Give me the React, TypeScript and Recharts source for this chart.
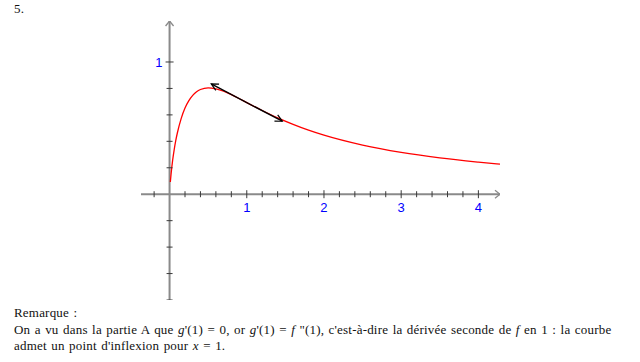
import React from "react";
import {
  ComposedChart,
  Line,
  Scatter,
  XAxis,
  YAxis,
} from "recharts";

// Sampled points of the red curve
const curveX = [
  0.01, 0.02, 0.04, 0.06, 0.08, 0.1, 0.15, 0.2, 0.25, 0.3, 0.35, 0.4, 0.5,
  0.6, 0.7, 0.8, 0.9, 1.0, 1.2, 1.4, 1.6, 1.8, 2.0, 2.5, 3.0, 3.5, 4.0, 4.28,
];
const curveY = [
  0.092, 0.156, 0.258, 0.338, 0.405, 0.461, 0.572, 0.652, 0.708, 0.748, 0.775,
  0.792, 0.805, 0.797, 0.779, 0.753, 0.724, 0.693, 0.633, 0.577, 0.528, 0.484,
  0.446, 0.371, 0.316, 0.275, 0.243, 0.227,
];

// Tangent segment at x = 1
const tangentX = [0.54, 1.46];
const tangentY = [0.834, 0.552];

// Axis extents
const xAxisRange = [-0.37, 4.28];
const yAxisRange = [-0.8, 1.31];

// Graduations
const xMinorTicks = [
  -0.2, 0.2, 0.4, 0.6, 0.8, 1.2, 1.4, 1.6, 1.8, 2.2, 2.4, 2.6, 2.8, 3.2, 3.4,
  3.6, 3.8,
];
const xMajorTicks = [1, 2, 3, 4];
const xTickLabels = ["1", "2", "3", "4"];
const yMinorTicks = [-0.8, -0.6, -0.4, -0.2, 0.2, 0.4, 0.6, 0.8];
const yMajorTicks = [1];
const yTickLabels = ["1"];

const curveData = curveX.map((x, i) => ({ x, y: curveY[i] }));
const tangentData = tangentX.map((x, i) => ({ x, y: tangentY[i] }));
const xAxisData = xAxisRange.map((x) => ({ x, y: 0 }));
const yAxisData = yAxisRange.map((y) => ({ x: 0, y }));
const xMinorData = xMinorTicks.map((x) => ({ x, y: 0 }));
const xMajorData = xMajorTicks.map((x, i) => ({ x, y: 0, label: xTickLabels[i] }));
const yMinorData = yMinorTicks.map((y) => ({ x: 0, y }));
const yMajorData = yMajorTicks.map((y, i) => ({ x: 0, y, label: yTickLabels[i] }));

const AXIS = "#8a8a8a";
const TICK = "#3a3a3a";
const LABEL = "#0000ff";

const XMinorTick = (p: any) => (
  <line x1={p.cx} y1={p.cy - 3} x2={p.cx} y2={p.cy + 3} stroke={TICK} strokeWidth={1} />
);
const XMajorTick = (p: any) => (
  <g>
    <line x1={p.cx} y1={p.cy - 4} x2={p.cx} y2={p.cy + 4} stroke={TICK} strokeWidth={1} />
    <text
      x={p.cx}
      y={p.cy + 18}
      textAnchor="middle"
      fontFamily="Liberation Sans, Arial, sans-serif"
      fontSize={13}
      fill={LABEL}
    >
      {p.payload?.label ?? p.label}
    </text>
  </g>
);
const YMinorTick = (p: any) => (
  <line x1={p.cx - 3} y1={p.cy} x2={p.cx + 3} y2={p.cy} stroke={TICK} strokeWidth={1} />
);
const YMajorTick = (p: any) => (
  <g>
    <line x1={p.cx - 4} y1={p.cy} x2={p.cx + 4} y2={p.cy} stroke={TICK} strokeWidth={1} />
    <text
      x={p.cx - 7}
      y={p.cy + 5}
      textAnchor="end"
      fontFamily="Liberation Sans, Arial, sans-serif"
      fontSize={13}
      fill={LABEL}
    >
      {p.payload?.label ?? p.label}
    </text>
  </g>
);

const textStyle: React.CSSProperties = {
  position: "absolute",
  left: 14,
  fontFamily: "'Liberation Serif', 'DejaVu Serif', serif",
  fontSize: 13,
  letterSpacing: 0.2,
  wordSpacing: 1,
  color: "#111",
  whiteSpace: "nowrap",
  lineHeight: "13px",
};

export default function App() {
  return (
    <div
      style={{
        position: "absolute",
        left: 0,
        top: 0,
        width: 640,
        height: 362,
        background: "#fff",
        overflow: "hidden",
      }}
    >
      <div style={{ ...textStyle, top: 2 }}>5.</div>
      <ComposedChart
        width={640}
        height={362}
        margin={{ top: 21, right: 140, bottom: 62, left: 141 }}
      >
        <defs>
          <marker
            id="axisArrow"
            markerWidth={8}
            markerHeight={10}
            refX={6}
            refY={5}
            orient="auto"
            markerUnits="userSpaceOnUse"
          >
            <path d="M1,1 L6,5 L1,9" fill="none" stroke={AXIS} strokeWidth={1.3} />
          </marker>
          <marker
            id="tanArrow"
            markerWidth={10}
            markerHeight={10}
            refX={8}
            refY={5}
            orient="auto-start-reverse"
            markerUnits="userSpaceOnUse"
          >
            <path d="M1,1.5 L8,5 L1,8.5" fill="none" stroke="#000" strokeWidth={1.2} />
          </marker>
        </defs>
        <XAxis
          type="number"
          dataKey="x"
          domain={xAxisRange}
          allowDataOverflow
          hide
        />
        <YAxis type="number" dataKey="y" domain={yAxisRange} allowDataOverflow hide />
        <Line
          data={xAxisData}
          dataKey="y"
          stroke={AXIS}
          strokeWidth={2}
          dot={false}
          activeDot={false}
          isAnimationActive={false}
          markerEnd="url(#axisArrow)"
        />
        <Line
          data={yAxisData}
          dataKey="y"
          stroke={AXIS}
          strokeWidth={2}
          dot={false}
          activeDot={false}
          isAnimationActive={false}
          markerEnd="url(#axisArrow)"
        />
        <Scatter data={xMinorData} dataKey="y" shape={XMinorTick} isAnimationActive={false} />
        <Scatter data={xMajorData} dataKey="y" shape={XMajorTick} isAnimationActive={false} />
        <Scatter data={yMinorData} dataKey="y" shape={YMinorTick} isAnimationActive={false} />
        <Scatter data={yMajorData} dataKey="y" shape={YMajorTick} isAnimationActive={false} />
        <Line
          data={curveData}
          dataKey="y"
          type="monotone"
          stroke="#ff0000"
          strokeWidth={1.3}
          dot={false}
          activeDot={false}
          isAnimationActive={false}
        />
        <Line
          data={tangentData}
          dataKey="y"
          stroke="#000"
          strokeWidth={1.4}
          dot={false}
          activeDot={false}
          isAnimationActive={false}
          markerStart="url(#tanArrow)"
          markerEnd="url(#tanArrow)"
        />
      </ComposedChart>
      <div style={{ ...textStyle, top: 306 }}>Remarque :</div>
      <div style={{ ...textStyle, top: 323 }}>
        On a vu dans la partie A que <i>g</i>'(1) = 0, or <i>g</i>'(1) = <i>f</i> "(1), c'est-à-dire la
        dérivée seconde de <i>f</i> en 1 : la courbe
      </div>
      <div style={{ ...textStyle, top: 339 }}>
        admet un point d'inflexion pour <i>x</i> = 1.
      </div>
    </div>
  );
}
